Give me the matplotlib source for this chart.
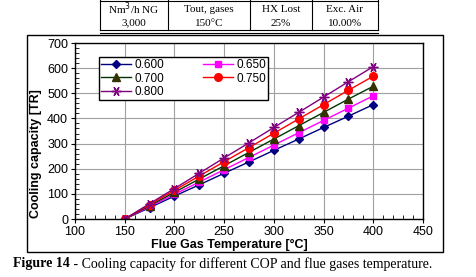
import matplotlib
matplotlib.use("Agg")
import matplotlib.pyplot as plt
from matplotlib.patches import Rectangle
from matplotlib.lines import Line2D
from matplotlib.ticker import MultipleLocator

# data
temp = [150, 175, 200, 225, 250, 275, 300, 325, 350, 375, 400]
cop_labels = ["0.600", "0.650", "0.700", "0.750", "0.800"]
cap_060 = [0, 45, 91, 136, 182, 227, 273, 318, 364, 409, 455]
cap_065 = [0, 49, 98, 147, 196, 245, 294, 343, 392, 441, 490]
cap_070 = [0, 53, 106, 159, 212, 265, 318, 371, 424, 477, 528]
cap_075 = [0, 57, 114, 171, 228, 284, 341, 398, 455, 512, 568]
cap_080 = [0, 61, 121, 182, 243, 303, 364, 424, 485, 546, 606]

table_head = ["Nm$^3$/h NG", "Tout, gases", "HX Lost", "Exc. Air"]
table_vals = ["3,000", "150\u00b0C", "25%", "10.00%"]

W, H = 476, 277
fig = plt.figure(figsize=(W / 100, H / 100), dpi=100)

def fx(px):
    return px / W

def fy(py):
    return 1 - py / H

# outer chart frame
fig.patches.append(Rectangle((fx(27), fy(252)), fx(443) - fx(27), fy(35) - fy(252),
                             transform=fig.transFigure, fill=False, edgecolor="black", lw=1.0))

# header table
cols = [100, 168, 250, 312, 378]
for x in cols:
    fig.add_artist(Line2D([fx(x), fx(x)], [fy(0), fy(30)], color="black", lw=0.8))
fig.add_artist(Line2D([fx(cols[0]), fx(cols[-1])], [fy(0.5), fy(0.5)], color="black", lw=0.8))
fig.add_artist(Line2D([fx(cols[0]), fx(cols[-1])], [fy(30), fy(30)], color="black", lw=0.8))
fig.add_artist(Line2D([fx(cols[0]), fx(cols[-1])], [fy(33), fy(33)], color="black", lw=0.8))
for i in range(4):
    cx = fx((cols[i] + cols[i + 1]) / 2)
    fig.text(cx, fy(9), table_head[i], ha="center", va="center", fontsize=8, family="Liberation Serif")
    fig.text(cx, fy(23), table_vals[i], ha="center", va="center", fontsize=8, family="Liberation Serif")

ax = fig.add_axes([fx(75), fy(219), fx(423) - fx(75), fy(43) - fy(219)])

series = [
    (cap_060, "#000080", "#000080", "D", 4.5),
    (cap_065, "#ff00ff", "#ff00ff", "s", 5),
    (cap_070, "#003300", "#333300", "^", 5.5),
    (cap_075, "#ff0000", "#ff0000", "o", 5.5),
    (cap_080, "#800080", "#800080", (6, 2, 90), 7),
]
for (vals, lc, mc, mk, ms), lab in zip(series, cop_labels):
    ax.plot(temp, vals, color=lc, marker=mk, markersize=ms, markerfacecolor=mc,
            markeredgecolor=mc, lw=1.0, label=lab)

ax.set_xlim(100, 450)
ax.set_ylim(0, 700)
ax.xaxis.set_major_locator(MultipleLocator(50))
ax.xaxis.set_minor_locator(MultipleLocator(10))
ax.yaxis.set_major_locator(MultipleLocator(100))
ax.yaxis.set_minor_locator(MultipleLocator(20))
ax.grid(True, which="major", color="#a0a0a0", lw=0.8)
ax.set_axisbelow(True)
ax.tick_params(which="major", direction="out", length=3, labelsize=9, pad=2)
ax.tick_params(which="minor", direction="in", length=3)
for lbl in ax.get_xticklabels() + ax.get_yticklabels():
    lbl.set_family("Liberation Sans")
for s in ax.spines.values():
    s.set_color("black")
    s.set_linewidth(1.0)

ax.set_xlabel("Flue Gas Temperature [\u00b0C]", fontsize=9, fontweight="bold",
              family="Liberation Sans")
ax.set_ylabel("Cooling capacity [TR]", fontsize=9, fontweight="bold",
              family="Liberation Sans")
ax.xaxis.set_label_coords(0.445, -0.115)
ax.yaxis.set_label_coords(-0.095, 0.37)

# legend filled row by row like the original
handles, labels = ax.get_legend_handles_labels()
order = [0, 2, 4, 1, 3]
leg = ax.legend([handles[i] for i in order], [labels[i] for i in order],
                ncol=2, loc="upper left", bbox_to_anchor=(fx(99), fy(57)),
                bbox_transform=fig.transFigure, fancybox=False, edgecolor="black",
                framealpha=1, prop={"family": "Liberation Sans", "size": 8.5},
                handlelength=2.5, handletextpad=0.3, columnspacing=3.3, labelspacing=0.1,
                borderpad=0.2, borderaxespad=0)
leg.get_frame().set_linewidth(1.0)

# caption
t1 = fig.text(fx(13), fy(264), "Figure 14", fontsize=10, fontweight="bold",
              family="Liberation Serif", va="center")
fig.canvas.draw()
bb = t1.get_window_extent()
fig.text(bb.x1 / W, fy(264), " - Cooling capacity for different COP and flue gases temperature.",
         fontsize=10, family="Liberation Serif", va="center")

fig.savefig("out.png", dpi=100)
